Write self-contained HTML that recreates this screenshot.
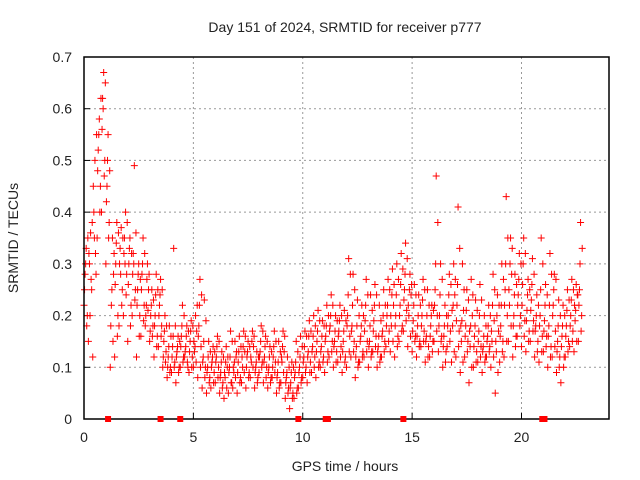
<!DOCTYPE html>
<html><head><meta charset="utf-8"><style>
body{margin:0;background:#fff;}
svg{display:block;font-family:"Liberation Sans",sans-serif;}
</style></head><body>
<svg id="chart" width="640" height="480" viewBox="0 0 640 480">
<rect width="640" height="480" fill="#fff"/>
<text x="345" y="32" font-size="14" text-anchor="middle" fill="#222">Day 151 of 2024, SRMTID for receiver p777</text>
<text x="345" y="471" font-size="14" text-anchor="middle" fill="#222">GPS time / hours</text>
<text x="18" y="238" font-size="14" text-anchor="middle" fill="#222" transform="rotate(-90 18 238)">SRMTID / TECUs</text>
<g id="grid"></g>
<g id="ticks"></g>
<g id="marks"></g>
<rect x="84" y="57" width="525" height="362" fill="none" stroke="#000" stroke-width="1.5"/>
<g id="flags"></g>
</svg>
<script>
const xTicks=[0,5,10,15,20];
const yTicks=[0,0.1,0.2,0.3,0.4,0.5,0.6,0.7];
const yTickLabels=["0","0.1","0.2","0.3","0.4","0.5","0.6","0.7"];
const binStart=0, binStep=0.2;
const srmtidA=[.22,.15,.12,.35,.40,.30,.10,.12,.18,.20,.15,.20,.12,.16,.18,.15,.12,.14,.10,.08,.09,.07,.10,.12,.09,.10,.08,.06,.05,.06,.07,.05,.04,.05,.06,.05,.07,.06,.08,.06,.09,.07,.06,.08,.05,.07,.04,.02,.04,.06,.08,.07,.09,.08,.10,.09,.12,.10,.11,.09,.10,.12,.08,.11,.12,.10,.13,.10,.12,.14,.13,.12,.15,.17,.14,.13,.12,.14,.11,.12,.15,.13,.10,.14,.11,.12,.09,.12,.07,.10,.11,.09,.12,.10,.05,.11,.12,.15,.12,.16,.14,.13,.15,.12,.11,.13,.10,.12,.09,.07,.12,.14,.13,.15];
const srmtidB=[.28,.30,.40,.52,.62,.45,.22,.30,.33,.35,.30,.32,.25,.28,.22,.20,.20,.22,.15,.12,.14,.13,.16,.14,.15,.13,.18,.12,.10,.11,.12,.09,.08,.10,.09,.11,.10,.12,.11,.10,.13,.12,.10,.12,.09,.11,.08,.07,.09,.10,.12,.13,.14,.15,.14,.16,.18,.15,.17,.15,.20,.18,.14,.16,.19,.15,.19,.14,.17,.20,.18,.20,.22,.25,.20,.19,.18,.20,.16,.18,.25,.20,.16,.20,.18,.22,.15,.18,.14,.16,.17,.14,.16,.15,.13,.18,.25,.22,.20,.24,.26,.21,.23,.18,.20,.19,.18,.22,.15,.16,.18,.20,.19,.25];
const srmtidC=[.33,.36,.50,.58,.67,.55,.35,.38,.37,.40,.35,.49,.30,.35,.30,.25,.28,.27,.20,.18,.33,.16,.22,.18,.19,.20,.27,.23,.15,.14,.16,.13,.14,.17,.15,.16,.17,.15,.17,.13,.18,.16,.14,.17,.15,.17,.12,.11,.15,.16,.17,.19,.20,.21,.19,.22,.24,.20,.22,.21,.31,.28,.23,.22,.27,.24,.26,.22,.25,.27,.29,.30,.32,.34,.28,.26,.24,.27,.25,.22,.47,.30,.22,.28,.30,.41,.30,.25,.27,.23,.26,.20,.22,.28,.24,.30,.43,.35,.28,.32,.35,.27,.31,.24,.35,.26,.32,.28,.23,.22,.25,.27,.26,.38];
const srmtidD=[.20,.25,.28,.45,.50,.38,.28,.20,.25,.28,.22,.25,.20,.22,.25,.18,.16,.18,.13,.10,.11,.10,.12,.10,.12,.17,.14,.10,.08,.09,.10,.07,.10,.07,.12,.08,.13,.09,.14,.08,.11,.10,.08,.11,.07,.13,.06,.05,.06,.08,.10,.11,.12,.11,.12,.13,.15,.13,.14,.12,.16,.15,.11,.13,.15,.13,.16,.12,.15,.17,.22,.16,.18,.21,.24,.16,.15,.17,.14,.15,.20,.16,.13,.17,.24,.17,.21,.15,.20,.13,.14,.12,.14,.19,.17,.15,.20,.28,.16,.20,.19,.17,.19,.15,.16,.16,.14,.17,.12,.12,.15,.17,.24,.20];
const srmtidE=[.25,.32,.45,.48,.56,.42,.18,.26,.30,.32,.26,.28,.22,.25,.20,.17,.18,.20,.12,.10,.12,.12,.14,.13,.13,.15,.16,.11,.09,.10,.11,.08,.09,.09,.10,.09,.12,.10,.12,.09,.12,.11,.09,.10,.08,.12,.07,.06,.08,.09,.11,.12,.13,.13,.13,.15,.17,.14,.16,.13,.18,.17,.12,.15,.17,.14,.17,.13,.16,.18,.20,.18,.20,.23,.22,.17,.16,.18,.15,.16,.22,.18,.14,.18,.21,.19,.18,.16,.17,.14,.15,.13,.15,.17,.15,.16,.22,.25,.18,.22,.22,.19,.21,.17,.18,.17,.16,.20,.13,.14,.16,.18,.22,.22];
const srmtidF=[.30,.20,.35,.55,.60,.50,.25,.34,.28,.30,.33,.30,.28,.30,.27,.22,.24,.24,.17,.14,.16,.14,.18,.16,.17,.14,.22,.15,.12,.12,.14,.11,.11,.12,.11,.13,.14,.13,.15,.11,.15,.14,.12,.14,.11,.14,.09,.09,.11,.12,.14,.16,.16,.17,.16,.18,.20,.17,.19,.17,.24,.22,.18,.18,.22,.18,.22,.16,.20,.22,.24,.24,.26,.28,.25,.22,.20,.23,.20,.20,.30,.24,.18,.24,.22,.26,.19,.21,.18,.18,.20,.16,.18,.22,.20,.22,.30,.30,.24,.27,.30,.24,.26,.20,.25,.22,.22,.25,.18,.18,.21,.23,.21,.30];
const srmtidG=[.18,.27,.32,.40,.47,.35,.15,.16,.22,.24,.18,.23,.16,.19,.21,.16,.14,.16,.11,.09,.10,.09,.11,.11,.10,.11,.10,.08,.07,.07,.08,.06,.06,.07,.08,.07,.09,.08,.10,.07,.10,.08,.07,.09,.06,.09,.05,.04,.05,.07,.09,.09,.10,.10,.11,.11,.13,.11,.12,.11,.13,.13,.10,.12,.13,.12,.14,.11,.13,.15,.15,.14,.17,.19,.16,.15,.14,.15,.12,.13,.17,.15,.11,.15,.13,.14,.11,.13,.10,.11,.12,.11,.13,.12,.09,.13,.15,.18,.14,.18,.16,.15,.17,.13,.13,.14,.12,.14,.10,.10,.13,.15,.15,.17];
const srmtidH=[.35,.38,.55,.62,.65,.48,.32,.36,.35,.38,.32,.36,.27,.32,.28,.23,.25,.25,.18,.16,.18,.15,.20,.17,.18,.22,.24,.19,.13,.13,.15,.12,.12,.15,.13,.14,.16,.14,.16,.12,.17,.15,.13,.15,.13,.16,.10,.10,.13,.14,.16,.17,.18,.19,.18,.20,.22,.19,.20,.19,.28,.25,.20,.20,.24,.21,.24,.19,.22,.25,.26,.27,.29,.31,.26,.24,.22,.25,.22,.21,.38,.27,.20,.26,.27,.33,.25,.23,.24,.21,.23,.18,.20,.25,.22,.27,.35,.33,.26,.30,.32,.25,.28,.22,.30,.24,.28,.27,.20,.20,.23,.25,.24,.33];
const flagTimes=[1.1,3.5,4.4,9.8,11.05,11.15,14.6,20.95,21.05];
const X0=84,X1=609,Y0=419,Y1=57,XMAX=24,YMAX=0.7;
const sx=t=>X0+t/XMAX*(X1-X0);
const sy=v=>Y0-v/YMAX*(Y0-Y1);
const NS="http://www.w3.org/2000/svg";
function mk(tag,attrs,parent){const e=document.createElementNS(NS,tag);for(const k in attrs)e.setAttribute(k,attrs[k]);parent.appendChild(e);return e;}
const grid=document.getElementById('grid'),ticks=document.getElementById('ticks'),marks=document.getElementById('marks'),flags=document.getElementById('flags');
xTicks.forEach(t=>{
  const x=sx(t);
  if(t>0){const g=mk('line',{x1:x,y1:Y0,x2:x,y2:Y1,stroke:'#999','stroke-dasharray':'2,3'},grid);
  
  }
  const l=mk('line',{x1:x,y1:Y0,x2:x,y2:Y0-6,stroke:'#000'},ticks);
  
  
  const tx=mk('text',{x:x,y:Y0+23,'font-size':14,'text-anchor':'middle',fill:'#222'},ticks);
  tx.textContent=String(t);
  
  
});
yTicks.forEach((v,i)=>{
  const y=sy(v);
  if(v>0&&v<YMAX){const g=mk('line',{x1:X0,y1:y,x2:X1,y2:y,stroke:'#999','stroke-dasharray':'2,3'},grid);
  
  }
  const l=mk('line',{x1:X0,y1:y,x2:X0+6,y2:y,stroke:'#000'},ticks);
  
  
  const tx=mk('text',{x:X0-12,y:y+5,'font-size':14,'text-anchor':'end',fill:'#222'},ticks);
  tx.textContent=yTickLabels[i];
  
  
});
const series=[srmtidA,srmtidE,srmtidB,srmtidF,srmtidC,srmtidG,srmtidD,srmtidH];
series.forEach((arr,k)=>{
  arr.forEach((v,i)=>{
    const t=binStart+i*binStep+k*0.025;
    const x=sx(t),y=sy(v);
    const p=mk('path',{d:`M${x-3.5},${y}H${x+3.5}M${x},${y-3.5}V${y+3.5}`,stroke:'#f00','stroke-width':1,fill:'none'},marks);
    
    
  });
});
flagTimes.forEach(t=>{
  const r=mk('rect',{x:sx(t)-3,y:Y0-3,width:6,height:6,fill:'#f00'},flags);
  
  
});
</script>
</body></html>
